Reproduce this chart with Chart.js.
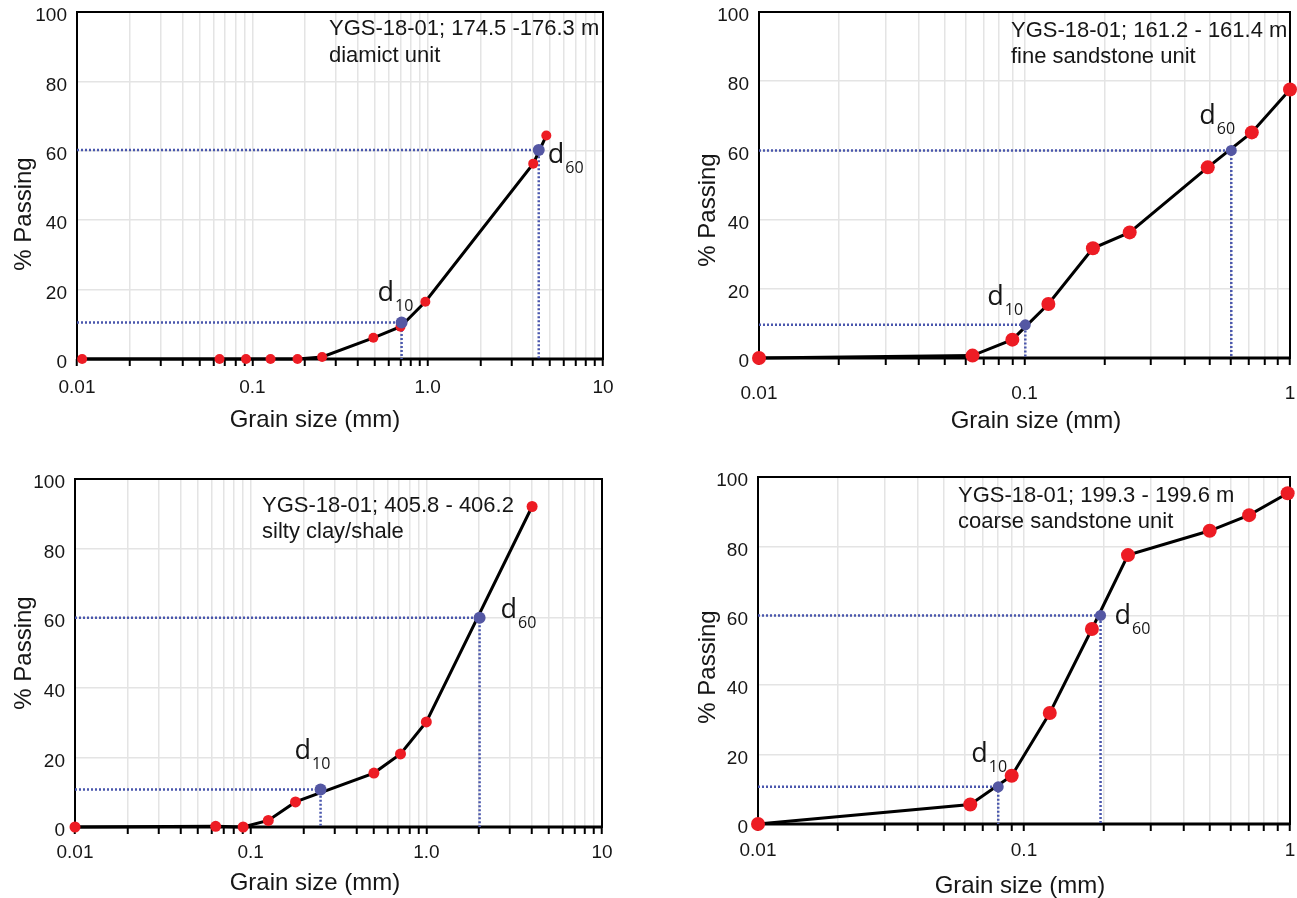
<!DOCTYPE html>
<html>
<head>
<meta charset="utf-8">
<script src="https://cdn.jsdelivr.net/npm/chart.js@4/dist/chart.umd.min.js"></script>
<style>
html, body { margin: 0; padding: 0; background: #fff; }
body { width: 1297px; height: 898px; position: relative; overflow: hidden; }
.panel { position: absolute; }
</style>
</head>
<body>
<div class="panel" style="left:0;top:0"><canvas id="c1" width="625" height="445"></canvas></div>
<div class="panel" style="left:650px;top:0"><canvas id="c2" width="647" height="445"></canvas></div>
<div class="panel" style="left:0;top:455px"><canvas id="c3" width="625" height="443"></canvas></div>
<div class="panel" style="left:650px;top:455px"><canvas id="c4" width="647" height="443"></canvas></div>
<script>
// ---- axis ticks ----
const xTicksTo10 = [0.01, 0.02, 0.03, 0.04, 0.05, 0.06, 0.07, 0.08, 0.09,
                    0.1, 0.2, 0.3, 0.4, 0.5, 0.6, 0.7, 0.8, 0.9,
                    1, 2, 3, 4, 5, 6, 7, 8, 9, 10];
const xTicksTo1 = [0.01, 0.02, 0.03, 0.04, 0.05, 0.06, 0.07, 0.08, 0.09,
                   0.1, 0.2, 0.3, 0.4, 0.5, 0.6, 0.7, 0.8, 0.9, 1];
const xLabelValsTo10 = [0.01, 0.1, 1, 10];
const xLabelsTo10 = ['0.01', '0.1', '1.0', '10'];
const xLabelValsTo1 = [0.01, 0.1, 1];
const xLabelsTo1 = ['0.01', '0.1', '1'];
const dSubscripts = ['10', '60'];
const xTitle = 'Grain size (mm)';
const yTitle = '% Passing';

// ---- diamict unit ----
const captionA = ['YGS-18-01; 174.5 -176.3 m', 'diamict unit'];
const sizeA = [0.0107, 0.065, 0.092, 0.127, 0.181, 0.25, 0.49, 0.70, 0.97, 4.0, 4.75];
const passA = [0, 0, 0, 0, 0, 0.6, 6.1, 9.3, 16.5, 56.3, 64.4];
const dSizeA = [0.71, 4.3];
const dPassA = [10.5, 60.2];

// ---- fine sandstone unit ----
const captionB = ['YGS-18-01; 161.2 - 161.4 m', 'fine sandstone unit'];
const sizeB = [0.01, 0.0637, 0.090, 0.123, 0.181, 0.249, 0.49, 0.718, 1.0];
const passB = [0, 0.7, 5.3, 15.6, 31.7, 36.3, 55.1, 65.2, 77.6];
const dSizeB = [0.1007, 0.601];
const dPassB = [9.6, 60];

// ---- silty clay/shale ----
const captionC = ['YGS-18-01; 405.8 - 406.2', 'silty clay/shale'];
const sizeC = [0.01, 0.0632, 0.0906, 0.126, 0.180, 0.503, 0.713, 1.0, 4.0];
const passC = [0, 0.2, 0, 1.9, 7.2, 15.5, 21.0, 30.2, 92.1];
const dSizeC = [0.25, 2.01];
const dPassC = [10.8, 60.1];

// ---- coarse sandstone unit ----
const captionD = ['YGS-18-01; 199.3 - 199.6 m', 'coarse sandstone unit'];
const sizeD = [0.01, 0.0628, 0.0899, 0.125, 0.180, 0.246, 0.499, 0.702, 0.98];
const passD = [0, 5.6, 13.9, 32.0, 56.2, 77.5, 84.5, 89.0, 95.3];
const dSizeD = [0.080, 0.194];
const dPassD = [10.7, 60.1];

const RED = '#ed1c24';
const BLUE = '#5457a3';
const DOT = '#4a57ad';
const GRID = '#e4e4e4';
const TEXT = '#161616';
const SANS = '"Liberation Sans", Arial, sans-serif';

Chart.defaults.font.family = SANS;
Chart.defaults.color = TEXT;

function decoPlugin(p) {
    return {
        id: 'deco',
        beforeDatasetsDraw(chart) {
            const { ctx, chartArea: a } = chart;
            ctx.save();
            ctx.strokeStyle = '#000';
            ctx.lineWidth = 2;
            ctx.strokeRect(a.left, a.top, a.right - a.left, a.bottom - a.top);
            // heavier bottom axis
            ctx.lineWidth = 3;
            ctx.beginPath();
            ctx.moveTo(a.left, a.bottom);
            ctx.lineTo(a.right, a.bottom);
            ctx.stroke();
            ctx.restore();
        },
        afterDatasetsDraw(chart) {
            const { ctx, chartArea: a, scales } = chart;
            ctx.save();
            ctx.fillStyle = TEXT;
            ctx.textBaseline = 'alphabetic';

            // caption in the upper right
            ctx.font = '22px ' + SANS;
            ctx.textAlign = 'left';
            p.caption.forEach((t, i) => ctx.fillText(t, a.left + p.capX, a.top + p.capY[i]));

            // axis titles
            ctx.font = '24px ' + SANS;
            ctx.textAlign = 'center';
            ctx.fillText(xTitle, a.left + p.xTitlePos[0], a.bottom + p.xTitlePos[1]);
            ctx.save();
            ctx.translate(a.left + p.yTitlePos[0], a.top + p.yTitlePos[1]);
            ctx.rotate(-Math.PI / 2);
            ctx.fillText(yTitle, 0, 0);
            ctx.restore();

            // d10 / d60 labels next to the blue points
            ctx.textAlign = 'left';
            p.dSize.forEach((x, i) => {
                const px = scales.x.getPixelForValue(x);
                const py = scales.y.getPixelForValue(p.dPass[i]);
                const [dx, dy] = p.dOff[i];
                ctx.font = '27px "Open Sans", sans-serif';
                ctx.fillText('d', px + dx, py + dy);
                const w = ctx.measureText('d').width;
                ctx.font = '16px "Open Sans", sans-serif';
                ctx.fillText(dSubscripts[i], px + dx + w + 1, py + dy + 10);
            });
            ctx.restore();
        }
    };
}

function buildPanel(id, p) {
    const pts = (xs, ys) => xs.map((x, i) => ({ x: x, y: ys[i] }));
    const datasets = [
        {
            data: pts(p.dSize, p.dPass),
            showLine: false,
            pointRadius: p.dRadius,
            pointBackgroundColor: BLUE,
            pointBorderWidth: 0,
            clip: false
        },
        {
            data: pts(p.size, p.pass),
            borderColor: '#000',
            borderWidth: 3,
            pointRadius: p.radius,
            pointBackgroundColor: RED,
            pointBorderWidth: 0,
            tension: 0,
            clip: false
        }
    ];
    p.dSize.forEach((x, i) => {
        datasets.push({
            data: [{ x: 0.01, y: p.dPass[i] }, { x: x, y: p.dPass[i] }, { x: x, y: 0 }],
            borderColor: DOT,
            borderWidth: 2.5,
            borderDash: [2, 2],
            pointRadius: 0,
            fill: false,
            clip: false
        });
    });

    return new Chart(document.getElementById(id), {
        type: 'line',
        data: { datasets: datasets },
        options: {
            responsive: false,
            animation: false,
            events: [],
            layout: { padding: { top: p.padTop, right: p.padRight, left: 0, bottom: 0 } },
            plugins: { legend: { display: false }, tooltip: { enabled: false } },
            scales: {
                x: {
                    type: 'logarithmic',
                    min: 0.01,
                    max: p.xMax,
                    border: { display: false },
                    grid: { color: GRID, lineWidth: 1.5, drawTicks: true, tickLength: 7, tickColor: '#000', tickWidth: 2 },
                    afterBuildTicks(s) { s.ticks = p.ticks.map(v => ({ value: v })); },
                    ticks: {
                        autoSkip: false,
                        maxRotation: 0,
                        padding: p.tickPad,
                        font: { size: 19 },
                        callback(v) {
                            const k = p.labelVals.findIndex(t => Math.abs(t - v) < 1e-9);
                            return k >= 0 ? p.labels[k] : '';
                        }
                    },
                    afterFit(s) { s.height = p.xHeight; s.paddingLeft = 0; s.paddingRight = 0; }
                },
                y: {
                    min: 0,
                    max: 100,
                    border: { display: false },
                    grid: { color: GRID, lineWidth: 1.5, drawTicks: false },
                    ticks: { stepSize: 20, padding: 10, labelOffset: 4, font: { size: 19 } },
                    afterFit(s) { s.width = p.yWidth; s.paddingTop = 0; s.paddingBottom = 0; }
                }
            }
        },
        plugins: [decoPlugin(p)]
    });
}

buildPanel('c1', {
    size: sizeA, pass: passA, dSize: dSizeA, dPass: dPassA, caption: captionA,
    xMax: 10, ticks: xTicksTo10, labelVals: xLabelValsTo10, labels: xLabelsTo10,
    yWidth: 77, xHeight: 86, padTop: 12, padRight: 22, tickPad: 10,
    radius: 5, dRadius: 6,
    capX: 252, capY: [23, 50], xTitlePos: [238, 68], yTitlePos: [-46, 202],
    dOff: [[-24, -22], [9, 13]]
});
buildPanel('c2', {
    size: sizeB, pass: passB, dSize: dSizeB, dPass: dPassB, caption: captionB,
    xMax: 1, ticks: xTicksTo1, labelVals: xLabelValsTo1, labels: xLabelsTo1,
    yWidth: 109, xHeight: 87, padTop: 12, padRight: 1, tickPad: 17,
    radius: 7, dRadius: 5.5,
    capX: 252, capY: [25, 51], xTitlePos: [277, 70], yTitlePos: [-44, 198],
    dOff: [[-38, -20], [-32, -26]]
});
buildPanel('c3', {
    size: sizeC, pass: passC, dSize: dSizeC, dPass: dPassC, caption: captionC,
    xMax: 10, ticks: xTicksTo10, labelVals: xLabelValsTo10, labels: xLabelsTo10,
    yWidth: 75, xHeight: 71, padTop: 24, padRight: 23, tickPad: 7,
    radius: 5.5, dRadius: 6,
    capX: 187, capY: [33, 59], xTitlePos: [240, 63], yTitlePos: [-44, 174],
    dOff: [[-26, -30], [21, 0]]
});
buildPanel('c4', {
    size: sizeD, pass: passD, dSize: dSizeD, dPass: dPassD, caption: captionD,
    xMax: 1, ticks: xTicksTo1, labelVals: xLabelValsTo1, labels: xLabelsTo1,
    yWidth: 108, xHeight: 74, padTop: 22, padRight: 1, tickPad: 8,
    radius: 7, dRadius: 5.5,
    capX: 200, capY: [25, 51], xTitlePos: [262, 69], yTitlePos: [-43, 190],
    dOff: [[-27, -25], [14, 9]]
});
</script>
</body>
</html>
